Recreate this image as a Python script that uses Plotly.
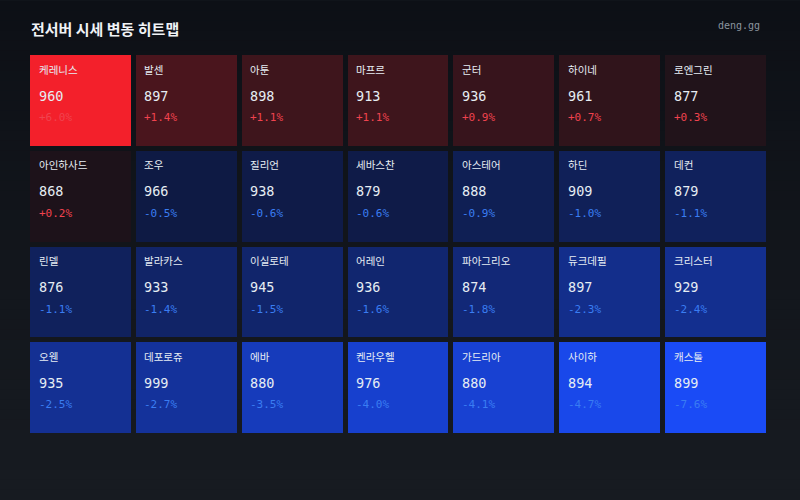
import plotly.graph_objects as go

# ---- data ----
servers = [
    "케레니스", "발센", "아툰", "마프르", "군터", "하이네", "로엔그린",
    "아인하사드", "조우", "질리언", "세바스찬", "아스테어", "하딘", "데컨",
    "린델", "발라카스", "이실로테", "어레인", "파아그리오", "듀크데필", "크리스터",
    "오웬", "데포로쥬", "에바", "켄라우헬", "가드리아", "사이하", "캐스톨",
]
prices = [
    960, 897, 898, 913, 936, 961, 877,
    868, 966, 938, 879, 888, 909, 879,
    876, 933, 945, 936, 874, 897, 929,
    935, 999, 880, 976, 880, 894, 899,
]
changes = [
    6.0, 1.4, 1.1, 1.1, 0.9, 0.7, 0.3,
    0.2, -0.5, -0.6, -0.6, -0.9, -1.0, -1.1,
    -1.1, -1.4, -1.5, -1.6, -1.8, -2.3, -2.4,
    -2.5, -2.7, -3.5, -4.0, -4.1, -4.7, -7.6,
]
title = "전서버 시세 변동 히트맵"
brand = "deng.gg"

NCOL = 7
NROW = len(servers) // NCOL

z = [changes[r * NCOL:(r + 1) * NCOL] for r in range(NROW)]

ZMIN, ZMAX = -5.0, 6.0
mid = (0 - ZMIN) / (ZMAX - ZMIN)

fig = go.Figure()

fig.add_trace(go.Heatmap(
    z=z,
    x=list(range(NCOL)),
    y=list(range(NROW)),
    zmin=ZMIN, zmax=ZMAX,
    colorscale=[[0.0, "#1a4bf6"], [mid, "#0d1530"], [mid + 0.0001, "#161219"], [1.0, "#f3202b"]],
    xgap=5, ygap=5,
    showscale=False,
    hoverinfo="skip",
))

W, H = 800, 500
ML, MR, MT, MB = 27.5, 30.5, 52.5, 63.5
PW, PH = W - ML - MR, H - MT - MB

ann = []
for i, (name, p, c) in enumerate(zip(servers, prices, changes)):
    r, col = divmod(i, NCOL)
    x0 = col - 0.5
    y0 = r - 0.5
    ann.append(dict(x=x0, y=y0, xref="x", yref="y", text=name, showarrow=False,
                    xanchor="left", yanchor="middle", xshift=8.5, yshift=-16,
                    font=dict(family="Noto Sans CJK KR", size=10.5, color="#e6edf3")))
    ann.append(dict(x=x0, y=y0, xref="x", yref="y", text=str(p), showarrow=False,
                    xanchor="left", yanchor="middle", xshift=8.5, yshift=-42.5,
                    font=dict(family="DejaVu Sans Mono", size=13.5, color="#e6edf3")))
    ann.append(dict(x=x0, y=y0, xref="x", yref="y", text=f"{c:+.1f}%", showarrow=False,
                    xanchor="left", yanchor="middle", xshift=8.5, yshift=-64.5,
                    font=dict(family="DejaVu Sans Mono", size=11,
                              color="#f0434f" if c > 0 else "#3a7df2")))


def px_to_paper(px, py):
    return (px - ML) / PW, 1 - (py - MT) / PH


tx, ty = px_to_paper(29, 28)
ann.append(dict(x=tx, y=ty, xref="paper", yref="paper", text=f"<b>{title}</b>",
                showarrow=False, xanchor="left", yanchor="middle",
                font=dict(family="Noto Sans CJK KR", size=15, color="#f0f3f6")))
bx, by = px_to_paper(762, 25)
ann.append(dict(x=bx, y=by, xref="paper", yref="paper", text=brand,
                showarrow=False, xanchor="right", yanchor="middle",
                font=dict(family="DejaVu Sans Mono", size=10, color="#8b949e")))

# background gradient stripes (pixel rows converted to paper coords)
shapes = []
top = (13, 16, 22)
bot = (23, 27, 33)
N = 50
for k in range(N):
    t = k / (N - 1)
    colr = tuple(int(round(top[j] + (bot[j] - top[j]) * t)) for j in range(3))
    py0 = k * H / N
    py1 = (k + 1) * H / N + 1
    _, y1 = px_to_paper(0, py0)
    _, y0 = px_to_paper(0, py1)
    x0p, _ = px_to_paper(-5, 0)
    x1p, _ = px_to_paper(W + 5, 0)
    shapes.append(dict(type="rect", xref="paper", yref="paper",
                       x0=x0p, x1=x1p, y0=y0, y1=y1,
                       fillcolor="rgb(%d,%d,%d)" % colr, line=dict(width=0),
                       layer="below"))

fig.update_layout(
    width=W, height=H,
    margin=dict(l=ML, r=MR, t=MT, b=MB),
    paper_bgcolor="#12161c",
    plot_bgcolor="rgba(0,0,0,0)",
    xaxis=dict(visible=False, range=[-0.5, NCOL - 0.5], fixedrange=True),
    yaxis=dict(visible=False, range=[NROW - 0.5, -0.5], fixedrange=True),
    annotations=ann,
    shapes=shapes,
    showlegend=False,
)

fig.write_html("out.html")
